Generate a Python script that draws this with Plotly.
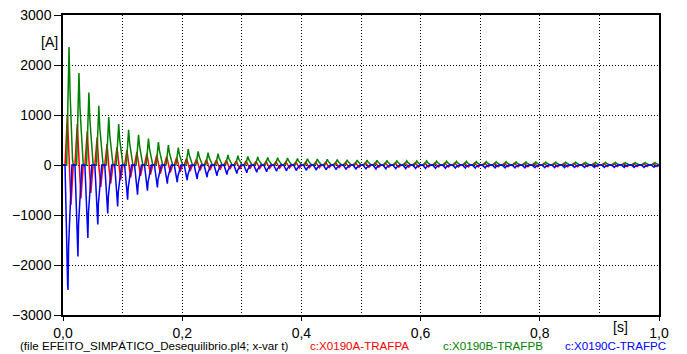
import plotly.graph_objects as go

# ---- data (per 60 Hz cycle) ----
FREQ = 60.0

green_peaks = [2360, 1840, 1450, 1185, 960, 820, 705, 605, 530, 460,
               400, 350, 320, 270, 245, 225, 200, 185, 170, 160,
               150, 145, 140, 130, 125, 120, 115, 110, 105, 100,
               97, 94, 90, 88, 85, 82, 80, 78, 76, 74,
               72, 70, 68, 66, 65, 63, 62, 60, 59, 58,
               57, 56, 55, 54, 53, 52, 51, 50, 50, 49]

blue_troughs = [-2500, -1830, -1460, -1190, -970, -830, -695, -595, -515, -450,
                -375, -345, -305, -280, -245, -215, -190, -170, -155, -145,
                -135, -125, -118, -112, -106, -100, -96, -92, -88, -85,
                -82, -79, -76, -74, -72, -70, -68, -66, -64, -62,
                -61, -60, -59, -58, -57, -56, -55, -54, -53, -52,
                -51, -50, -50, -49, -49, -48, -48, -47, -47, -46]

red_pos = [1000, 820, 670, 555, 420, 355, 300, 260, 225, 195,
           170, 150, 135, 120, 110, 100, 92, 85, 80, 75,
           70, 66, 63, 60, 58, 56, 54, 52, 50, 48,
           47, 46, 45, 44, 43, 42, 41, 40, 40, 39,
           39, 38, 38, 37, 37, 36, 36, 35, 35, 35,
           34, 34, 34, 33, 33, 33, 32, 32, 32, 32]

red_neg = [-800, -670, -560, -440, -370, -300, -250, -215, -190, -170,
           -150, -135, -120, -110, -100, -92, -85, -80, -75, -70,
           -66, -63, -60, -58, -56, -54, -52, -50, -48, -47,
           -46, -45, -44, -43, -42, -41, -40, -40, -39, -39,
           -38, -38, -37, -37, -36, -36, -35, -35, -35, -34,
           -34, -34, -33, -33, -33, -32, -32, -32, -32, -32]

x_tickvals = [0.0, 0.2, 0.4, 0.6, 0.8, 1.0]
x_ticktext = ["0,0", "0,2", "0,4", "0,6", "0,8", "1,0"]
y_tickvals = [-3000, -2000, -1000, 0, 1000, 2000, 3000]

names = ["c:X0190A-TRAFPA", "c:X0190B-TRAFPB", "c:X0190C-TRAFPC"]
colors = ["#ff0000", "#008000", "#0000ff"]

# pulse shape within a cycle: (time offset s, fraction of the cycle value)
G_SHAPE = [(0.0062, 0.0), (0.0101, 1.0), (0.0118, 0.62), (0.0160, 0.05), (0.0173, 0.0)]
B_SHAPE = [(0.0034, 0.0), (0.0078, 0.96), (0.0084, 1.0), (0.0094, 0.65), (0.0140, 0.03), (0.0150, 0.0)]


def build_single(vals, shape):
    xs, ys = [0.0], [0.0]
    for k, v in enumerate(vals):
        t0 = k / FREQ
        for dt, f in shape:
            xs.append(t0 + dt)
            ys.append(v * f)
    xs.append(1.0)
    ys.append(0.0)
    return xs, ys


def build_red(pos, neg):
    xs, ys = [0.0], [0.0]
    for k in range(len(pos)):
        t0 = k / FREQ
        pts = [(0.0034, 0.0), (0.0073, pos[k]), (0.0100, 0.0),
               (0.0134, neg[k]), (0.0173, 0.0)]
        for dt, v in pts:
            xs.append(t0 + dt)
            ys.append(v)
    xs.append(1.0)
    ys.append(0.0)
    return xs, ys


rx, ry = build_red(red_pos, red_neg)
gx, gy = build_single(green_peaks, G_SHAPE)
bx, by = build_single(blue_troughs, B_SHAPE)

fig = go.Figure()
for (xs, ys), nm, col in zip([(rx, ry), (gx, gy), (bx, by)], names, colors):
    fig.add_trace(go.Scatter(x=xs, y=ys, mode="lines", name=nm,
                             line=dict(color=col, width=1.5), showlegend=False))

FONT = "Liberation Sans, Arial, sans-serif"
GRID_DASH = "1px,2px"

fig.update_layout(
    width=687, height=354,
    margin=dict(l=63, r=28, t=15, b=39, autoexpand=False),
    paper_bgcolor="white", plot_bgcolor="white",
    font=dict(family=FONT, size=14, color="black"),
    xaxis=dict(range=[0, 1], tickvals=x_tickvals, ticktext=x_ticktext,
               showgrid=True, gridcolor="black", griddash=GRID_DASH, gridwidth=1,
               minor=dict(dtick=0.1, tick0=0, showgrid=True, gridcolor="black",
                          griddash=GRID_DASH, gridwidth=1),
               showline=True, linecolor="black", linewidth=1.5, mirror=True,
               ticks="outside", ticklen=4, tickcolor="black",
               zeroline=False, automargin=False, tickfont=dict(size=14)),
    yaxis=dict(range=[-3000, 3000], tickvals=y_tickvals,
               showgrid=True, gridcolor="black", griddash=GRID_DASH, gridwidth=1,
               showline=True, linecolor="black", linewidth=1.5, mirror=True,
               ticks="outside", ticklen=7, tickcolor="black",
               zeroline=False, automargin=False, tickfont=dict(size=14)),
)

# unit labels
fig.add_annotation(x=-0.005, y=2460, xref="paper", yref="y", text="[A]",
                   showarrow=False, xanchor="right", yanchor="middle",
                   font=dict(size=14))
fig.add_annotation(x=0.935, y=-0.04, xref="x", yref="paper", text="[s]",
                   showarrow=False, xanchor="center", yanchor="middle",
                   font=dict(size=14))

# footer
footer = [("(file EFEITO_SIMPÁTICO_Desequilibrio.pl4; x-var t)", "black", 18),
          (names[0], colors[0], 308),
          (names[1], colors[1], 441),
          (names[2], colors[2], 563)]
for txt, col, px in footer:
    fig.add_annotation(x=(px - 63) / 596, y=-(345 - 315) / 300,
                       xref="paper", yref="paper", text=txt, showarrow=False,
                       xanchor="left", yanchor="middle",
                       font=dict(size=11.6, color=col))

fig.write_html("out.html", config={"displayModeBar": False},
               post_script="document.body.style.margin='0px';document.body.style.overflow='hidden';")
